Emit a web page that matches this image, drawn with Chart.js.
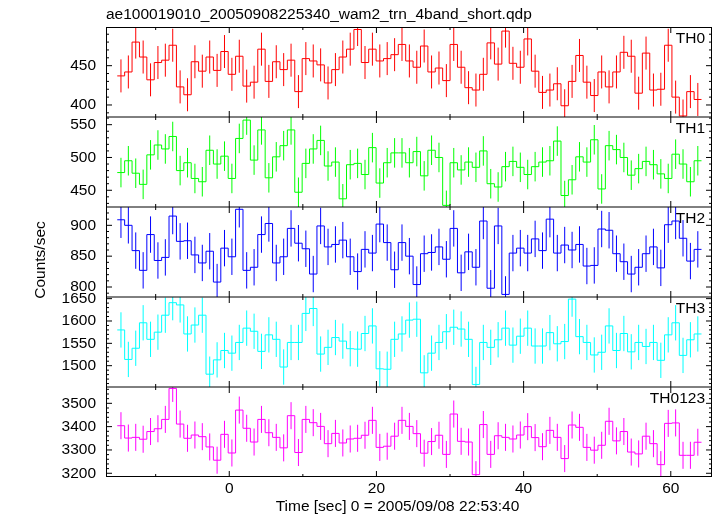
<!DOCTYPE html>
<html lang="en">
<head>
<meta charset="utf-8">
<title>ae100019010_20050908225340_wam2_trn_4band_short.qdp</title>
<script src="https://cdn.jsdelivr.net/npm/chart.js@4.4.1/dist/chart.umd.min.js"></script>
<style>
  html, body { margin: 0; padding: 0; background: #fff; }
  canvas { display: block; }
</style>
</head>
<body>
<canvas id="lc" width="717" height="516"></canvas>
<script>
// light curve bins: start time [s] and bin width
const binStart = -15.22
const binWidth = 1.005

const th0 = [437, 442, 480, 461, 432, 454, 457, 476, 423, 413, 455, 443, 461, 444, 468, 439, 462, 424, 429, 471,
  430, 455, 445, 457, 417, 459, 456, 451, 428, 445, 461, 471, 496, 454, 471, 456, 459, 464, 477, 456,
  448, 475, 442, 447, 431, 477, 448, 422, 419, 439, 479, 452, 494, 453, 448, 484, 443, 416, 419, 427,
  399, 430, 463, 429, 412, 442, 423, 442, 467, 462, 415, 466, 419, 420, 476, 410, 386, 417, 407]
const th1 = [477, 495, 476, 459, 504, 519, 513, 532, 480, 492, 468, 463, 511, 490, 502, 468, 529, 557, 496, 542,
  469, 501, 518, 542, 447, 491, 513, 526, 487, 493, 437, 489, 491, 474, 515, 461, 492, 507, 507, 492,
  509, 472, 511, 500, 427, 492, 481, 493, 485, 510, 460, 455, 486, 494, 485, 474, 486, 493, 495, 525,
  442, 466, 501, 493, 527, 452, 518, 512, 500, 473, 483, 494, 489, 475, 468, 505, 490, 463, 495]
const th2 = [909, 900, 859, 827, 885, 843, 848, 915, 874, 875, 852, 839, 858, 808, 863, 849, 926, 827, 832, 885,
  903, 839, 849, 895, 871, 862, 821, 899, 865, 869, 876, 849, 825, 861, 855, 902, 872, 828, 872, 850,
  804, 854, 856, 865, 845, 895, 823, 857, 832, 907, 798, 899, 788, 855, 863, 855, 878, 859, 910, 855,
  868, 860, 869, 834, 835, 894, 892, 854, 841, 821, 832, 854, 865, 831, 901, 907, 879, 842, 861]
const th3 = [1580, 1514, 1539, 1596, 1559, 1575, 1613, 1641, 1636, 1571, 1591, 1613, 1481, 1513, 1534, 1528, 1552, 1584, 1577, 1532,
  1569, 1559, 1497, 1552, 1552, 1617, 1628, 1526, 1541, 1563, 1555, 1538, 1537, 1572, 1589, 1493, 1492, 1559, 1571, 1602,
  1604, 1484, 1528, 1552, 1576, 1586, 1582, 1559, 1458, 1552, 1541, 1558, 1584, 1546, 1566, 1584, 1544, 1544, 1574, 1549,
  1554, 1649, 1565, 1552, 1524, 1530, 1589, 1534, 1572, 1531, 1552, 1543, 1552, 1512, 1569, 1596, 1523, 1558, 1571]
const th0123 = [3404, 3351, 3354, 3346, 3379, 3391, 3431, 3564, 3411, 3350, 3364, 3357, 3313, 3256, 3367, 3287, 3471, 3393, 3334, 3431,
  3374, 3354, 3309, 3447, 3289, 3431, 3417, 3401, 3327, 3371, 3330, 3347, 3350, 3363, 3427, 3311, 3316, 3359, 3427, 3401,
  3370, 3286, 3336, 3363, 3281, 3454, 3337, 3334, 3194, 3409, 3281, 3361, 3354, 3347, 3364, 3400, 3353, 3314, 3384, 3354,
  3263, 3407, 3397, 3311, 3299, 3320, 3423, 3339, 3379, 3291, 3283, 3359, 3327, 3237, 3414, 3416, 3277, 3277, 3333]

// 1-sigma error (counts/sec) per band
const errors = [21, 22.5, 29.5, 39.5, 58]

const bandNames = ["TH0", "TH1", "TH2", "TH3", "TH0123"]
const bandColors = ["#ff0000", "#00ff00", "#0000ff", "#00ffff", "#ff00ff"]
const yRanges = [[384.7, 499.2], [424.5, 561.7], [783.8, 929.7], [1452.3, 1653.7], [3184, 3570]]
const yTickLabels = [[400, 450], [450, 500, 550], [800, 850, 900], [1500, 1550, 1600, 1650], [3200, 3300, 3400, 3500]]
const yMinorStep = [10, 10, 10, 10, 20]
const xTickLabels = [0, 20, 40, 60]

const fileTitle = "ae100019010_20050908225340_wam2_trn_4band_short.qdp"
const xTitle = "Time [sec] 0 = 2005/09/08 22:53:40"
const yTitle = "Counts/sec"

const FONT = "'Liberation Sans', Arial, Helvetica, sans-serif"
Chart.defaults.font.family = FONT

const series = [th0, th1, th2, th3, th0123]
const datasets = []
series.forEach((vals, p) => {
  const step = vals.map((v, i) => ({ x: binStart + i * binWidth, y: v }))
  step.push({ x: binStart + vals.length * binWidth, y: vals[vals.length - 1] })
  const bars = []
  vals.forEach((v, i) => {
    const t = binStart + (i + 0.5) * binWidth
    bars.push({ x: t, y: v - errors[p] }, { x: t, y: v + errors[p] }, { x: t, y: null })
  })
  const common = {
    yAxisID: "y" + p,
    borderColor: bandColors[p],
    backgroundColor: bandColors[p],
    borderWidth: 1,
    pointRadius: 0,
    fill: false,
    tension: 0,
  }
  datasets.push({ ...common, label: bandNames[p], data: step, stepped: true })
  datasets.push({ ...common, label: bandNames[p] + " err", data: bars, spanGaps: false })
})

const scales = {
  x: {
    type: "linear",
    min: -16.75,
    max: 65.6,
    grid: { display: false, drawTicks: false },
    border: { display: false },
    afterBuildTicks: (s) => { s.ticks = xTickLabels.map((v) => ({ value: v })) },
    afterFit: (s) => { s.height = 39 },
    ticks: { autoSkip: false, maxRotation: 0, padding: 2, color: "#000", font: { size: 15.5 }, callback: (v) => String(v) },
  },
}
bandNames.forEach((name, p) => {
  scales["y" + p] = {
    type: "linear",
    position: "left",
    stack: "bands",
    stackWeight: 1,
    weight: 5 - p,
    min: yRanges[p][0],
    max: yRanges[p][1],
    grid: { display: false, drawTicks: false },
    border: { display: false },
    afterBuildTicks: (s) => { s.ticks = yTickLabels[p].map((v) => ({ value: v })) },
    afterFit: (s) => { s.width = 106 },
    ticks: { autoSkip: false, padding: 10, color: "#000", font: { size: 15.5 }, callback: (v) => String(v) },
  }
})

// qdp style frames: boxed panels with inward ticks, band names, axis labels
const qdpFrame = {
  id: "qdpFrame",
  afterDraw(chart) {
    const ctx = chart.ctx
    const area = chart.chartArea
    const xs = chart.scales.x
    ctx.save()
    ctx.strokeStyle = "#000"
    ctx.lineWidth = 1

    ctx.beginPath()
    bandNames.forEach((name, p) => {
      const ys = chart.scales["y" + p]
      for (let v = Math.ceil(ys.min / yMinorStep[p]) * yMinorStep[p]; v <= ys.max; v += yMinorStep[p]) {
        const py = ys.getPixelForValue(v)
        const len = yTickLabels[p].includes(v) ? 6 : 3
        ctx.moveTo(area.left, py); ctx.lineTo(area.left + len, py)
        ctx.moveTo(area.right, py); ctx.lineTo(area.right - len, py)
      }
      for (let v = -10; v <= 60; v += 10) {
        const px = xs.getPixelForValue(v)
        const len = v % 20 === 0 ? 6 : 3
        ctx.moveTo(px, ys.top); ctx.lineTo(px, ys.top + len)
        ctx.moveTo(px, ys.bottom); ctx.lineTo(px, ys.bottom - len)
      }
    })
    ctx.stroke()

    ctx.strokeRect(area.left + 0.5, area.top + 0.5, area.right - area.left - 1, area.bottom - area.top - 1)
    ctx.beginPath()
    for (let p = 1; p < bandNames.length; p++) {
      const y = chart.scales["y" + p].top
      ctx.moveTo(area.left, y); ctx.lineTo(area.right, y)
    }
    ctx.stroke()

    ctx.fillStyle = "#000"
    ctx.font = "15.5px " + FONT
    ctx.textAlign = "right"
    ctx.textBaseline = "alphabetic"
    bandNames.forEach((name, p) => {
      ctx.fillText(name, area.right - 7, chart.scales["y" + p].top + 16)
    })

    ctx.textAlign = "center"
    ctx.textBaseline = "middle"
    ctx.fillText(xTitle, 397.5, 507)
    ctx.translate(41, 260)
    ctx.rotate(-Math.PI / 2)
    ctx.fillText(yTitle, 0, 0)
    ctx.restore()
  },
}

new Chart(document.getElementById("lc").getContext("2d"), {
  type: "line",
  data: { datasets },
  options: {
    responsive: false,
    animation: false,
    devicePixelRatio: 1,
    layout: { padding: { top: 0, right: 5, bottom: 0, left: 0 } },
    plugins: {
      legend: { display: false },
      tooltip: { enabled: false },
      title: {
        display: true,
        text: fileTitle,
        align: "start",
        fullSize: false,
        color: "#000",
        font: { size: 15.5, weight: "normal" },
        padding: { top: 5, bottom: 3.4 },
      },
    },
    scales,
  },
  plugins: [qdpFrame],
})
</script>
</body>
</html>
